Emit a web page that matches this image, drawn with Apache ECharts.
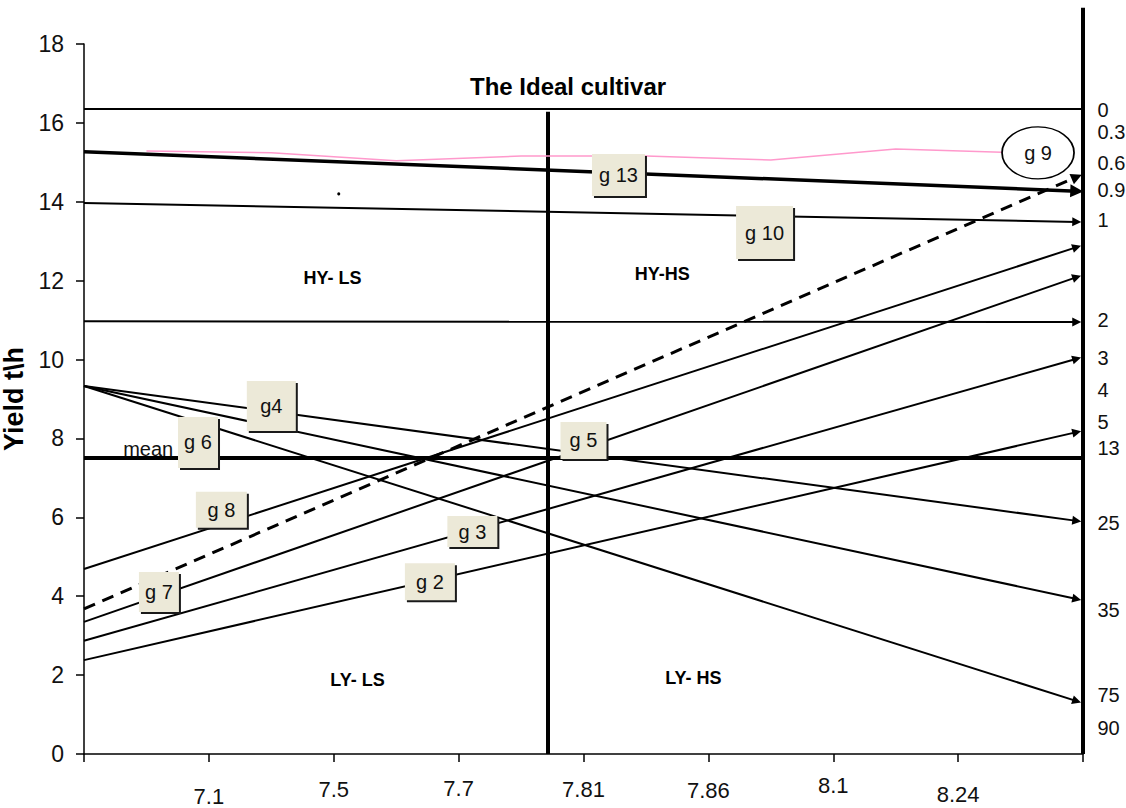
<!DOCTYPE html>
<html>
<head>
<meta charset="utf-8">
<title>The Ideal cultivar</title>
<script src="https://cdn.jsdelivr.net/npm/echarts@6/dist/echarts.min.js"></script>
<style>
  html, body { margin: 0; padding: 0; background: #ffffff; }
  #chart { width: 1126px; height: 808px; }
</style>
</head>
<body>
<div id="chart"></div>
<script>
// x axis: one tick per stability class, first and last ticks unlabeled
const xTickLabels = ["", "7.1", "7.5", "7.7", "7.81", "7.86", "8.1", "8.24", ""];

// arrows drawn across the plot: yield at the left edge -> yield at the right edge
const thinStart = [13.97, 10.97, 9.33, 9.33, 9.33, 4.69, 3.35, 2.87, 2.38];
const thinEnd = [13.49, 10.95, 5.91, 3.93, 1.34, 12.85, 12.09, 10.02, 8.16];
const g13Line = [15.27, 14.27];
const g7Line = [3.68, 14.63];

// pink g 9 trace, one point per class
const pinkX = [0.5, 1.5, 2.5, 3.5, 4.5, 5.5, 6.5, 7.5];
const pinkY = [15.29, 15.24, 15.04, 15.16, 15.16, 15.06, 15.34, 15.24];

const meanYield = 7.5;
const idealYield = 16.35;
const dividerX = 3.716;
const dividerTop = 16.28;
const frameTop = 18.92;

// scale printed down the right edge
const rightLabels = ["0", "0.3", "0.6", "0.9", "1", "2", "3", "4", "5", "13", "25", "35", "75", "90"];
const rightLabelY = [16.33, 15.77, 14.98, 14.3, 13.54, 11.0, 10.04, 9.23, 8.42, 7.76, 5.86, 3.65, 1.5, 0.66];

// genotype tags (anchored in data space)
const boxNames = ["g 13", "g 10", "g4", "g 6", "g 5", "g 8", "g 3", "g 2", "g 7"];
const boxX = [4.28, 5.45, 1.5, 0.913, 4.0, 1.1, 3.11, 2.77, 0.6];
const boxY = [14.68, 13.22, 8.82, 7.9, 7.95, 6.19, 5.64, 4.37, 4.11];
const boxW = [53, 57, 49, 40, 46, 51, 50, 50, 40];
const boxH = [42, 53, 50, 51, 37, 36, 31, 37, 40];

const quadrantNames = ["HY- LS", "HY-HS", "LY- LS", "LY- HS"];
const quadrantX = [1.99, 4.63, 2.19, 4.88];
const quadrantY = [12.07, 12.17, 1.88, 1.93];

const g9Pos = [7.64, 15.24];
const meanLabelPos = [0.31, 7.73];
const strayDot = [2.04, 14.2];

const FONT = "'Liberation Sans', Arial, sans-serif";
const ARROW_X = 7.95;
const xLabelNudge = { "7.1": 11, "7.5": 4, "7.7": 3, "7.81": 4, "7.86": 5, "8.1": 0, "8.24": 9 };

const chart = echarts.init(document.getElementById("chart"), null, { renderer: "svg" });

const rich = {};
Object.values(xLabelNudge).forEach((d) => {
  rich["d" + d] = { padding: [d, 0, 0, 0], fontSize: 22, fontFamily: FONT, color: "#111" };
});

const hidden = { color: "rgba(0,0,0,0)", opacity: 1 };

const thinArrows = thinStart.map((s, i) => ({ coords: [[0, s], [ARROW_X, thinEnd[i]]] }));

// a tag is a dark plate under a beige plate, 2px apart, like an old button
function tagData(offset) {
  return boxNames.map((name, i) => ({
    name,
    value: [boxX[i], boxY[i]],
    label: {
      width: boxW[i],
      height: boxH[i],
      lineHeight: boxH[i],
      offset,
    },
  }));
}

function tagSeries(name, fill, textColor, offset, z) {
  return {
    name,
    type: "scatter",
    z,
    symbolSize: 1,
    itemStyle: hidden,
    label: {
      show: true,
      position: "inside",
      formatter: "{b}",
      fontSize: 20,
      color: textColor,
      opacity: 1,
      fontFamily: FONT,
      align: "center",
      verticalAlign: "middle",
      backgroundColor: fill,
    },
    data: tagData(offset),
  };
}

const option = {
  animation: false,
  backgroundColor: "#ffffff",
  textStyle: { fontFamily: FONT },
  title: {
    text: "The Ideal cultivar",
    left: 470,
    top: 74,
    padding: 0,
    textStyle: { fontSize: 24, fontWeight: "bold", color: "#000", fontFamily: FONT },
  },
  grid: { left: 84, right: 43, top: 44, bottom: 54, outerBoundsMode: "none", containLabel: false },
  xAxis: {
    type: "value",
    min: 0,
    max: 8,
    interval: 1,
    splitLine: { show: false },
    axisLine: { lineStyle: { color: "#000", width: 1.5 } },
    axisTick: { show: true, length: 8, lineStyle: { color: "#000", width: 1.5 } },
    axisLabel: {
      margin: 20,
      fontSize: 22,
      color: "#111",
      fontFamily: FONT,
      rich,
      formatter: (v) => {
        const t = xTickLabels[Math.round(v)];
        return t ? `{d${xLabelNudge[t]}|${t}}` : "";
      },
    },
  },
  yAxis: {
    type: "value",
    min: 0,
    max: 18,
    interval: 2,
    name: "Yield t\\h",
    nameLocation: "middle",
    nameGap: 54,
    nameTextStyle: { fontSize: 27, fontWeight: "bold", color: "#000", fontFamily: FONT },
    splitLine: { show: false },
    axisLine: { lineStyle: { color: "#000", width: 1.5 } },
    axisTick: { show: true, length: 8, lineStyle: { color: "#000", width: 1.5 } },
    axisLabel: { margin: 20, fontSize: 23, color: "#111", fontFamily: FONT },
  },
  series: [
    {
      name: "frame",
      type: "lines",
      coordinateSystem: "cartesian2d",
      clip: false,
      symbol: "none",
      lineStyle: { color: "#000", opacity: 1, curveness: 0 },
      data: [
        { coords: [[0, idealYield], [8, idealYield]], lineStyle: { width: 2 } },
        { coords: [[0, meanYield], [8, meanYield]], lineStyle: { width: 4 } },
        { coords: [[dividerX, 0], [dividerX, dividerTop]], lineStyle: { width: 4 } },
        { coords: [[8, 0], [8, frameTop]], lineStyle: { width: 4 } },
      ],
    },
    {
      name: "g 9",
      type: "line",
      z: 2,
      data: pinkX.map((x, i) => [x, pinkY[i]]),
      symbol: "none",
      lineStyle: { color: "#ff99cc", width: 1.5 },
    },
    {
      name: "thin",
      type: "lines",
      coordinateSystem: "cartesian2d",
      symbol: ["none", "triangle"],
      symbolSize: 9,
      lineStyle: { color: "#000", width: 2, opacity: 1, curveness: 0 },
      data: thinArrows,
    },
    {
      name: "g 13 line",
      type: "lines",
      coordinateSystem: "cartesian2d",
      symbol: ["none", "triangle"],
      symbolSize: 13,
      lineStyle: { color: "#000", width: 3.5, opacity: 1, curveness: 0 },
      data: [{ coords: [[0, g13Line[0]], [ARROW_X, g13Line[1]]] }],
    },
    {
      name: "g 7 line",
      type: "lines",
      coordinateSystem: "cartesian2d",
      symbol: ["none", "triangle"],
      symbolSize: 11,
      lineStyle: { color: "#000", width: 3, opacity: 1, curveness: 0, type: [12, 8] },
      data: [{ coords: [[0, g7Line[0]], [ARROW_X, g7Line[1]]] }],
    },
    {
      name: "dot",
      type: "scatter",
      symbolSize: 3,
      itemStyle: { color: "#000", opacity: 1 },
      data: [strayDot],
    },
    {
      name: "g 9 tag",
      type: "scatter",
      z: 10,
      symbol: "path://M0,1 A1,1 0 1 1 2,1 A1,1 0 1 1 0,1 Z",
      symbolSize: [72, 52],
      itemStyle: { color: "#ffffff", borderColor: "#000", borderWidth: 1.5, opacity: 1 },
      label: { show: true, position: "inside", formatter: "g 9", fontSize: 20, color: "#111", fontFamily: FONT },
      data: [g9Pos],
    },
    tagSeries("tag edges", "#1a1a1a", "rgba(0,0,0,0)", [2, 2], 10),
    tagSeries("tags", "#ECE9D8", "#111", [0, 0], 11),
    {
      name: "quadrants",
      type: "scatter",
      symbolSize: 1,
      itemStyle: hidden,
      label: {
        show: true,
        position: "inside",
        formatter: "{b}",
        fontSize: 18,
        fontWeight: "bold",
        color: "#000",
        fontFamily: FONT,
      },
      data: quadrantNames.map((name, i) => ({ name, value: [quadrantX[i], quadrantY[i]] })),
    },
    {
      name: "mean label",
      type: "scatter",
      symbolSize: 1,
      itemStyle: hidden,
      label: {
        show: true,
        position: "right",
        distance: 0,
        formatter: "mean",
        fontSize: 20,
        color: "#111",
        fontFamily: FONT,
      },
      data: [meanLabelPos],
    },
    {
      name: "right scale",
      type: "scatter",
      symbolSize: 1,
      itemStyle: hidden,
      label: {
        show: true,
        position: "right",
        distance: 14,
        formatter: "{b}",
        fontSize: 20,
        color: "#111",
        fontFamily: FONT,
      },
      data: rightLabels.map((name, i) => ({ name, value: [8, rightLabelY[i]] })),
    },
  ],
};

chart.setOption(option);
</script>
</body>
</html>
